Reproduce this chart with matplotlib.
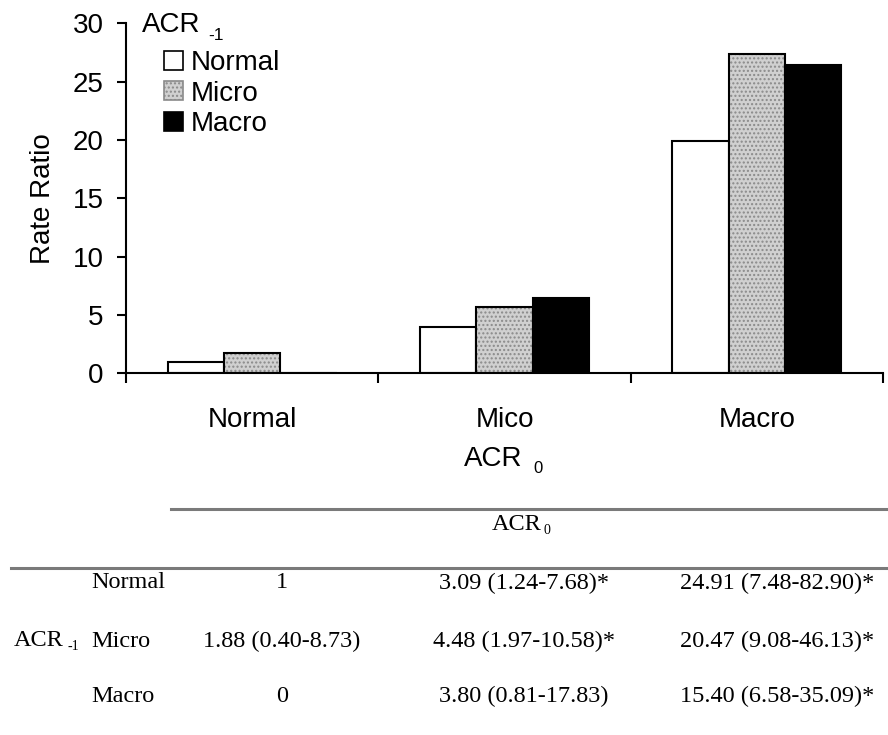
import numpy as np
import matplotlib.pyplot as plt
from matplotlib.patches import Patch
from matplotlib.lines import Line2D

# ACR_0 groups on the x axis, ACR_-1 series as bars
groups = ["Normal", "Mico", "Macro"]
series = ["Normal", "Micro", "Macro"]
normal_vals = [1.0, 4.0, 19.9]
micro_vals = [1.7, 5.7, 27.4]
macro_vals = [0.0, 6.45, 26.4]

# table below the chart
row_labels = ["Normal", "Micro", "Macro"]
table_cells = [
    ["1", "3.09 (1.24-7.68)*", "24.91 (7.48-82.90)*"],
    ["1.88 (0.40-8.73)", "4.48 (1.97-10.58)*", "20.47 (9.08-46.13)*"],
    ["0", "3.80 (0.81-17.83)", "15.40 (6.58-35.09)*"],
]

W, H = 888, 735
SANS = ["Liberation Sans", "DejaVu Sans"]
SERIF = ["Liberation Serif", "DejaVu Serif"]
plt.rcParams["font.family"] = SANS


def px(x, y):
    # pixel position (from top-left) -> figure fraction
    return x / W, 1 - y / H


fig = plt.figure(figsize=(W / 100, H / 100), dpi=100)
left, top, right, bottom = 126, 23.3, 883, 373.3
ax = fig.add_axes([left / W, 1 - bottom / H, (right - left) / W, (bottom - top) / H])

x = np.arange(len(groups))
width = 0.223
gray = "#d0d0d0"

ax.bar(x - width, normal_vals, width, color="white", edgecolor="black", linewidth=1.5)
ax.bar(x, micro_vals, width, color=gray, edgecolor="#8a8a8a", hatch="....", linewidth=0)
ax.bar(x, micro_vals, width, fill=False, edgecolor="black", linewidth=1.5)
ax.bar(x + width, macro_vals, width, color="black", edgecolor="black", linewidth=1.5)

ax.set_xlim(-0.5, 2.5)
ax.set_ylim(0, 30)
ax.set_yticks(np.arange(0, 31, 5))
ax.spines["top"].set_visible(False)
ax.spines["right"].set_visible(False)
for s in ["left", "bottom"]:
    ax.spines[s].set_linewidth(1.5)

ax.set_xticks([-0.5, 0.5, 1.5, 2.5])
ax.set_xticklabels([])
ax.set_xticks(x, minor=True)
ax.set_xticklabels(groups, minor=True)
ax.tick_params(axis="x", which="major", length=7, width=1.5, direction="out")
ax.tick_params(axis="x", which="minor", length=0, pad=24, labelsize=20)
ax.tick_params(axis="y", length=6.5, width=1.5, pad=9.5, labelsize=20)

ax.set_ylabel("Rate Ratio", fontsize=20)
ax.yaxis.set_label_coords(-0.092, 0.5)

# x axis title with subscript
fig.text(*px(493, 459), "ACR", fontsize=20, ha="center", va="center")
fig.text(*px(538, 468.5), "0", fontsize=12, ha="center", va="center")

# legend
handles = [
    Patch(facecolor="white", edgecolor="black", linewidth=1.2),
    Patch(facecolor=gray, edgecolor="#8a8a8a", hatch="....", linewidth=1.2),
    Patch(facecolor="black", edgecolor="black", linewidth=1.2),
]
ax.legend(handles, series, loc="upper left", bbox_to_anchor=((164 - left) / 757, (bottom - 50) / 350),
          frameon=False, fontsize=20, handlelength=0.68, handleheight=0.68,
          handletextpad=0.3, labelspacing=0.165, borderpad=0, borderaxespad=0)
fig.text(*px(141.7, 25), "ACR", fontsize=20, ha="left", va="center")
fig.text(*px(208, 35), "-1", fontsize=12.5, ha="left", va="center")

# table
line_kw = dict(color="#7a7a7a", linewidth=2.2)
fig.add_artist(Line2D([171 / W, 1], [1 - 509.3 / H] * 2, **line_kw))
fig.add_artist(Line2D([10.7 / W, 1], [1 - 567.7 / H] * 2, **line_kw))
fig.text(*px(491.7, 525), "ACR", fontsize=17.5, family=SERIF, ha="left", va="center")
fig.text(*px(543, 530), "0", fontsize=10, family=SERIF, ha="left", va="center")

row_y = [583, 641.7, 696.7]
col_x = [282, 524, 777.5]
for r, lab in enumerate(row_labels):
    fig.text(*px(91, row_y[r]), lab, fontsize=17.5, family=SERIF, ha="left", va="center")
    for c, val in enumerate(table_cells[r]):
        fig.text(*px(col_x[c], row_y[r]), val, fontsize=17.5, family=SERIF, ha="center", va="center")
fig.text(*px(14, 640), "ACR", fontsize=17.5, family=SERIF, ha="left", va="center")
fig.text(*px(67, 646.7), "-1", fontsize=10, family=SERIF, ha="left", va="center")

fig.savefig("out.png", dpi=100)
